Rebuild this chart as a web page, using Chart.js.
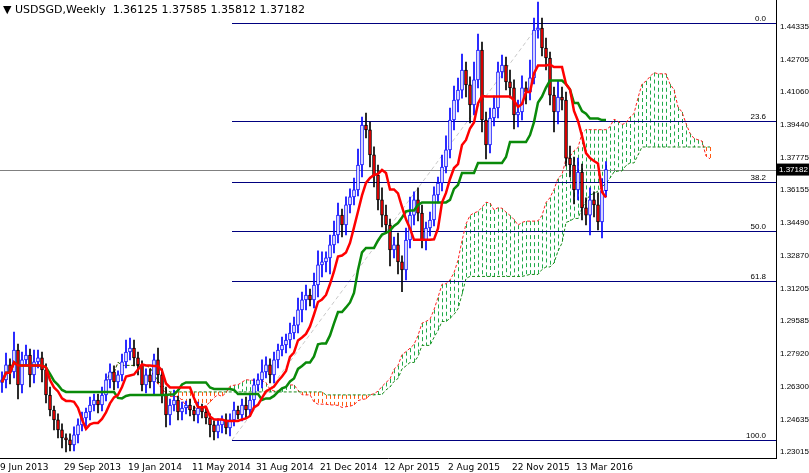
<!DOCTYPE html>
<html><head><meta charset="utf-8">
<script src="https://cdn.jsdelivr.net/npm/chart.js@4/dist/chart.umd.min.js"></script>
<style>html,body{margin:0;padding:0;background:#fff}#w{position:relative;width:809px;height:473px}
#t{position:absolute;left:3px;top:3px;font:11px "DejaVu Sans",sans-serif;color:#000;pointer-events:none}</style>
</head><body><div id="w"><canvas id="c" width="809" height="473"></canvas><div id="t">&#9660; USDSGD,Weekly&nbsp; 1.36125 1.37585 1.35812 1.37182</div></div>
<script>
const closes=[1.2663,1.2738,1.2703,1.2813,1.2638,1.2763,1.2788,1.2688,
1.2753,1.2773,1.2713,1.2587,1.2512,1.2462,1.2412,1.2372,
1.2362,1.2337,1.2387,1.2437,1.2472,1.2502,1.2537,1.2562,
1.2537,1.2587,1.2663,1.2703,1.2653,1.2688,1.2753,1.2803,
1.2823,1.2773,1.2738,1.2638,1.2688,1.2653,1.2763,1.2688,
1.2587,1.2487,1.2537,1.2562,1.2502,1.2522,1.2537,1.2512,
1.2487,1.2522,1.2502,1.2472,1.2437,1.2402,1.2437,1.2462,
1.2422,1.2462,1.2512,1.2487,1.2537,1.2512,1.2562,1.2638,
1.2663,1.2703,1.2738,1.2688,1.2763,1.2813,1.2838,1.2863,
1.2898,1.2938,1.3014,1.3064,1.3089,1.3064,1.3139,1.3240,
1.3255,1.3275,1.3340,1.3390,1.3490,1.3440,1.3541,1.3581,
1.3616,1.3741,1.3942,1.3917,1.3792,1.3691,1.3566,1.3490,
1.3440,1.3315,1.3340,1.3255,1.3215,1.3365,1.3490,1.3566,
1.3500,1.3365,1.3425,1.3465,1.3591,1.3651,1.3731,1.3817,
1.3967,1.4067,1.4117,1.4218,1.4143,1.4042,1.4168,1.4318,
1.3967,1.3842,1.3977,1.4027,1.4208,1.4243,1.4158,1.4128,
1.3992,1.4007,1.4128,1.4108,1.4178,1.4418,1.4428,1.4328,
1.4278,1.4092,1.4007,1.4082,1.4067,1.3776,1.3741,1.3616,
1.3706,1.3526,1.3490,1.3566,1.3541,1.3455,1.36125,1.37182];
const firstOpen=1.2650;
const upWick=[40,60,30,90,30,40,50,30,60,40,30,30,40,20,30,30,20,30,40,30,30,20,40,30,30,40,30,40,30,20,40,60,
50,40,30,20,30,30,30,60,30,40,30,50,20,30,20,30,20,30,20,20,20,20,30,20,30,30,40,20,30,40,30,30,
30,60,40,30,40,30,40,30,50,40,60,40,50,30,60,70,50,30,50,70,60,30,40,40,60,80,40,60,40,40,50,60,
50,30,40,60,30,60,90,40,60,40,30,40,40,30,60,70,60,70,60,80,40,40,90,80,40,40,50,60,50,50,40,60,
40,60,60,30,90,60,130,50,50,30,40,80,50,40,60,40,70,40,50,60,40,60,60,40];
const dnWick=[50,40,60,30,70,40,30,60,40,30,60,40,30,50,40,50,60,30,30,40,30,40,40,30,40,30,30,40,40,30,30,30,
40,40,50,30,40,30,60,40,40,60,50,30,40,40,30,30,30,40,30,30,60,40,30,40,30,40,30,20,30,40,30,40,
30,40,30,40,40,40,30,40,40,30,40,60,50,30,40,60,60,50,80,40,40,60,50,40,40,30,60,40,60,60,50,60,
40,80,40,60,110,50,40,50,40,40,50,40,30,40,40,30,40,50,60,40,60,90,50,40,60,70,40,40,50,30,40,50,
70,60,40,60,40,30,40,40,60,50,100,60,50,40,60,70,50,60,50,100,60,40,80,31];
const dateLabels=['9 Jun 2013','29 Sep 2013','19 Jan 2014','11 May 2014','31 Aug 2014','21 Dec 2014','12 Apr 2015','2 Aug 2015','22 Nov 2015','13 Mar 2016'];
const priceTicks=[1.44335,1.42705,1.41060,1.39440,1.37775,1.36155,1.34490,1.32870,1.31205,1.29585,1.27920,1.26300,1.24635,1.23015];
const fiboHigh=1.4454, fiboLow=1.2361, fiboLevels=[0,23.6,38.2,50,61.8,100];
const fiboStart=57.5, fiboEnd=134.5;
const lastPrice=1.37182;

const N=closes.length, shift=26, totalBars=194;
const opens=closes.map((c,i)=>i?closes[i-1]:firstOpen);
const highs=closes.map((c,i)=>Math.max(c,opens[i])+upWick[i]/10000);
const lows=closes.map((c,i)=>Math.min(c,opens[i])-dnWick[i]/10000);
const mid=(p,i)=>{let s=Math.max(0,i-p+1),h=-1e9,l=1e9;for(let k=s;k<=i;k++){h=Math.max(h,highs[k]);l=Math.min(l,lows[k]);}return (h+l)/2;};
const tenkan=closes.map((c,i)=>({x:i,y:mid(9,i)}));
const kijun=closes.map((c,i)=>({x:i,y:mid(26,i)}));
const spanA=closes.map((c,i)=>({x:i+shift,y:(mid(9,i)+mid(26,i))/2}));
const spanB=closes.map((c,i)=>({x:i+shift,y:mid(52,i)}));
const bull=i=>closes[i]>=opens[i];
const ctx=document.getElementById('c').getContext('2d');

const overlay={id:'ov',
 beforeDatasetsDraw(ch){const {ctx:g,scales:{x,y},chartArea:a}=ch;g.save();
  g.lineWidth=1;g.setLineDash([4,3]);
  for(let i=0;i<spanA.length;i++){
    const va=spanA[i].y, vb=spanB[i].y;
    const px=Math.round(x.getPixelForValue(spanA[i].x))+0.5;
    const ya=y.getPixelForValue(va), yb=y.getPixelForValue(vb);
    g.strokeStyle=va>=vb?'#1faa4a':'#ff5a10';
    g.beginPath();g.moveTo(px,Math.min(ya,yb));g.lineTo(px,Math.max(ya,yb));g.stroke();}
  g.setLineDash([]);
  const xs=x.getPixelForValue(fiboStart),xe=x.getPixelForValue(fiboEnd);
  g.strokeStyle='#c8c8c8';g.setLineDash([4,3]);g.beginPath();g.moveTo(xs,y.getPixelForValue(fiboLow));g.lineTo(xe,y.getPixelForValue(fiboHigh));g.stroke();g.setLineDash([]);
  g.strokeStyle='#808080';const py=Math.round(y.getPixelForValue(lastPrice))+0.5;g.beginPath();g.moveTo(a.left,py);g.lineTo(a.right,py);g.stroke();
  g.strokeStyle='#00007f';g.fillStyle='#000';g.font='8px "Liberation Sans",sans-serif';g.textAlign='right';g.textBaseline='bottom';
  fiboLevels.forEach(l=>{const v=fiboHigh-(fiboHigh-fiboLow)*l/100;const yy=Math.round(y.getPixelForValue(v))+0.5;g.beginPath();g.moveTo(xs,yy);g.lineTo(a.right,yy);g.stroke();g.fillText(l.toFixed(1),a.right-10,yy-1);});
  g.restore();},
 afterDraw(ch){const {ctx:g,scales:{y},chartArea:a}=ch;g.save();const py=y.getPixelForValue(lastPrice);
  g.fillStyle='#000';g.fillRect(a.right+1,py-6,33,12);g.fillStyle='#fff';g.font='8px "Liberation Sans",sans-serif';g.textBaseline='middle';g.textAlign='left';g.fillText(lastPrice.toFixed(5),a.right+3,py);g.restore();}
};

new Chart(ctx,{
 data:{datasets:[
  {type:'line',data:spanB,borderColor:'#1a8a1a',borderWidth:1,borderDash:[3,2],pointRadius:0,fill:false,order:9},
  {type:'line',data:spanA,borderColor:'#ff2020',borderWidth:1,borderDash:[3,2],pointRadius:0,fill:false,order:10},
  {type:'bar',data:closes.map((c,i)=>({x:i,y:[lows[i],highs[i]]})),backgroundColor:closes.map((c,i)=>bull(i)?'#0000ff':'#000'),barThickness:1,grouped:false,order:5},
  {type:'bar',data:closes.map((c,i)=>({x:i,y:[opens[i],c]})),backgroundColor:closes.map((c,i)=>bull(i)?'#fff':'#ff0000'),borderColor:closes.map((c,i)=>bull(i)?'#0000ff':'#000'),borderWidth:1,borderSkipped:false,barThickness:3,grouped:false,order:4},
  {type:'line',data:kijun,borderColor:'#0a8a0a',borderWidth:2.5,pointRadius:0,order:2},
  {type:'line',data:tenkan,borderColor:'#ff0000',borderWidth:2.5,pointRadius:0,order:1}
 ]},
 plugins:[overlay],
 options:{responsive:false,animation:false,events:[],layout:{padding:0},
  plugins:{legend:{display:false},tooltip:{enabled:false}},
  scales:{
   x:{type:'linear',min:-0.5,max:totalBars-0.5,offset:false,grid:{display:false,drawTicks:true,tickLength:4},border:{color:'#000'},
    afterBuildTicks:s=>{s.ticks=dateLabels.map((d,k)=>({value:k*16-0.5}));},
    afterFit:s=>{s.height=15;s.paddingLeft=0;s.paddingRight=0;},
    ticks:{autoSkip:false,maxRotation:0,align:'start',padding:0,color:'#000',font:{size:9,family:'DejaVu Sans'},callback:(v,k)=>dateLabels[k]}},
   y:{position:'right',min:1.2271,max:1.4569,grid:{display:false,tickLength:3},border:{color:'#000'},
    afterBuildTicks:s=>{s.ticks=priceTicks.map(v=>({value:v}));},
    afterFit:s=>{s.width=33;s.paddingTop=0;s.paddingBottom=0;},
    ticks:{autoSkip:false,padding:1,color:'#000',font:{size:8,family:'Liberation Sans'},callback:v=>v.toFixed(5)}}
  }}
});
</script></body></html>
